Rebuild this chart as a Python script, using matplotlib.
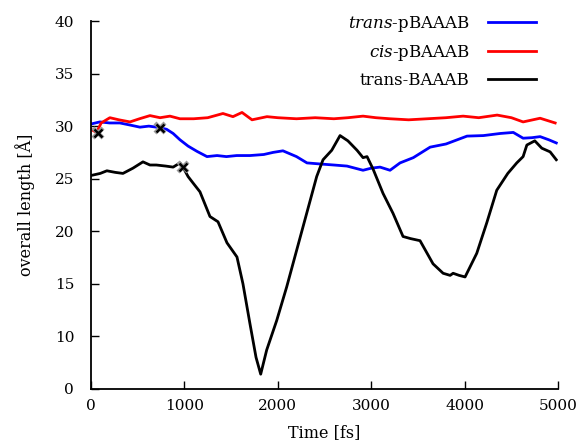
import matplotlib
matplotlib.use("Agg")
from matplotlib import pyplot as plt

plt.rcParams["font.family"] = "DejaVu Serif"
plt.rcParams["mathtext.fontset"] = "dejavuserif"

# trans-pBAAAB (blue)
t_blue = [0, 96, 200, 310, 420, 525, 620, 700, 760, 810, 880, 953, 1040, 1135, 1242,
          1350, 1450, 1560, 1702, 1850, 1950, 2055, 2200, 2312, 2450, 2600, 2740,
          2912, 3000, 3094, 3201, 3308, 3450, 3630, 3800, 4025, 4200, 4380, 4520,
          4625, 4720, 4807, 4900, 4980]
v_blue = [30.2, 30.4, 30.3, 30.3, 30.1, 29.9, 30.0, 29.9, 29.8, 29.7, 29.3, 28.7, 28.1,
          27.6, 27.1, 27.2, 27.1, 27.2, 27.2, 27.3, 27.5, 27.65, 27.1, 26.5, 26.4,
          26.3, 26.2, 25.8, 26.0, 26.1, 25.8, 26.5, 27.0, 28.0, 28.3, 29.05, 29.1,
          29.3, 29.4, 28.85, 28.9, 29.0, 28.7, 28.4]

# cis-pBAAAB (red)
t_red = [0, 60, 110, 203, 300, 418, 520, 632, 740, 846, 953, 1100, 1250, 1413, 1520,
         1617, 1724, 1884, 2000, 2200, 2400, 2600, 2750, 2912, 3050, 3200, 3400,
         3600, 3800, 3983, 4150, 4347, 4500, 4625, 4807, 4968]
v_red = [29.7, 29.4, 30.3, 30.8, 30.6, 30.4, 30.7, 31.0, 30.8, 30.95, 30.7, 30.7, 30.8,
         31.2, 30.9, 31.3, 30.6, 30.9, 30.8, 30.7, 30.8, 30.7, 30.8, 30.95, 30.8,
         30.7, 30.6, 30.7, 30.8, 30.95, 30.8, 31.05, 30.8, 30.4, 30.75, 30.3]

# trans-BAAAB (black)
t_black = [0, 100, 171, 260, 343, 450, 557, 632, 700, 800, 880, 953, 985, 1040, 1092,
           1167, 1274, 1360, 1456, 1563, 1627, 1702, 1767, 1817, 1881, 1988, 2095,
           2202, 2309, 2416, 2484, 2577, 2666, 2750, 2848, 2912, 2955, 3020, 3126,
           3233, 3340, 3420, 3522, 3661, 3769, 3844, 3876, 3940, 4004, 4129, 4236,
           4343, 4461, 4557, 4625, 4665, 4750, 4825, 4914, 4980]
v_black = [25.3, 25.5, 25.75, 25.6, 25.5, 26.0, 26.6, 26.3, 26.3, 26.2, 26.1, 26.5,
           26.1, 25.2, 24.6, 23.75, 21.4, 20.9, 18.9, 17.55, 15.0, 11.2, 8.0, 6.4,
           8.7, 11.5, 14.7, 18.2, 21.7, 25.2, 26.8, 27.7, 29.1, 28.6, 27.7, 27.0,
           27.1, 25.9, 23.6, 21.7, 19.5, 19.3, 19.1, 16.9, 16.0, 15.8, 16.0, 15.8,
           15.65, 17.9, 20.8, 23.9, 25.5, 26.5, 27.1, 28.2, 28.6, 27.9, 27.55, 26.8]

# hop events
t_hops = [75, 740, 985]
v_hops = [29.3, 29.8, 26.1]

ytick_pos = [5, 10, 15, 20, 25, 30, 35, 40]
ytick_labels = ["0", "10", "15", "20", "25", "30", "35", "40"]
xtick_pos = [0, 1000, 2000, 3000, 4000, 5000]

fig = plt.figure(figsize=(5.79, 4.47), dpi=100)
ax = fig.add_axes([0.157, 0.13, 0.807, 0.823])

ax.plot(t_blue, v_blue, color="#0000ff", lw=2.0, label=r"$\mathit{trans}$-pBAAAB")
ax.plot(t_red, v_red, color="#ff0000", lw=2.0, label=r"$\mathit{cis}$-pBAAAB")
ax.plot(t_black, v_black, color="black", lw=2.0, label="trans-BAAAB")
ax.plot(t_hops, v_hops, ls="none", marker="x", markersize=7, mew=3, color="#999999")
ax.plot(t_hops, v_hops, ls="none", marker="x", markersize=6, mew=1.8, color="black")

ax.set_xlim(0, 5000)
ax.set_ylim(5, 40)
ax.set_xticks(xtick_pos)
ax.set_yticks(ytick_pos)
ax.set_yticklabels(ytick_labels)
ax.tick_params(direction="in", length=6, width=1, labelsize=11)
ax.tick_params(axis="x", pad=7)
ax.tick_params(axis="y", pad=12)
for s in ["top", "right"]:
    ax.spines[s].set_visible(False)
for s in ["left", "bottom"]:
    ax.spines[s].set_linewidth(1.3)

ax.set_xlabel("Time [fs]", fontsize=11.5, labelpad=8)
ax.set_ylabel("overall length [Å]", fontsize=11.5, labelpad=14)

ax.legend(loc="upper right", bbox_to_anchor=(0.985, 1.06), frameon=False, markerfirst=False,
          handlelength=2.9, fontsize=12, labelspacing=0.55, handletextpad=1.1)

fig.savefig("out.png", dpi=100)
